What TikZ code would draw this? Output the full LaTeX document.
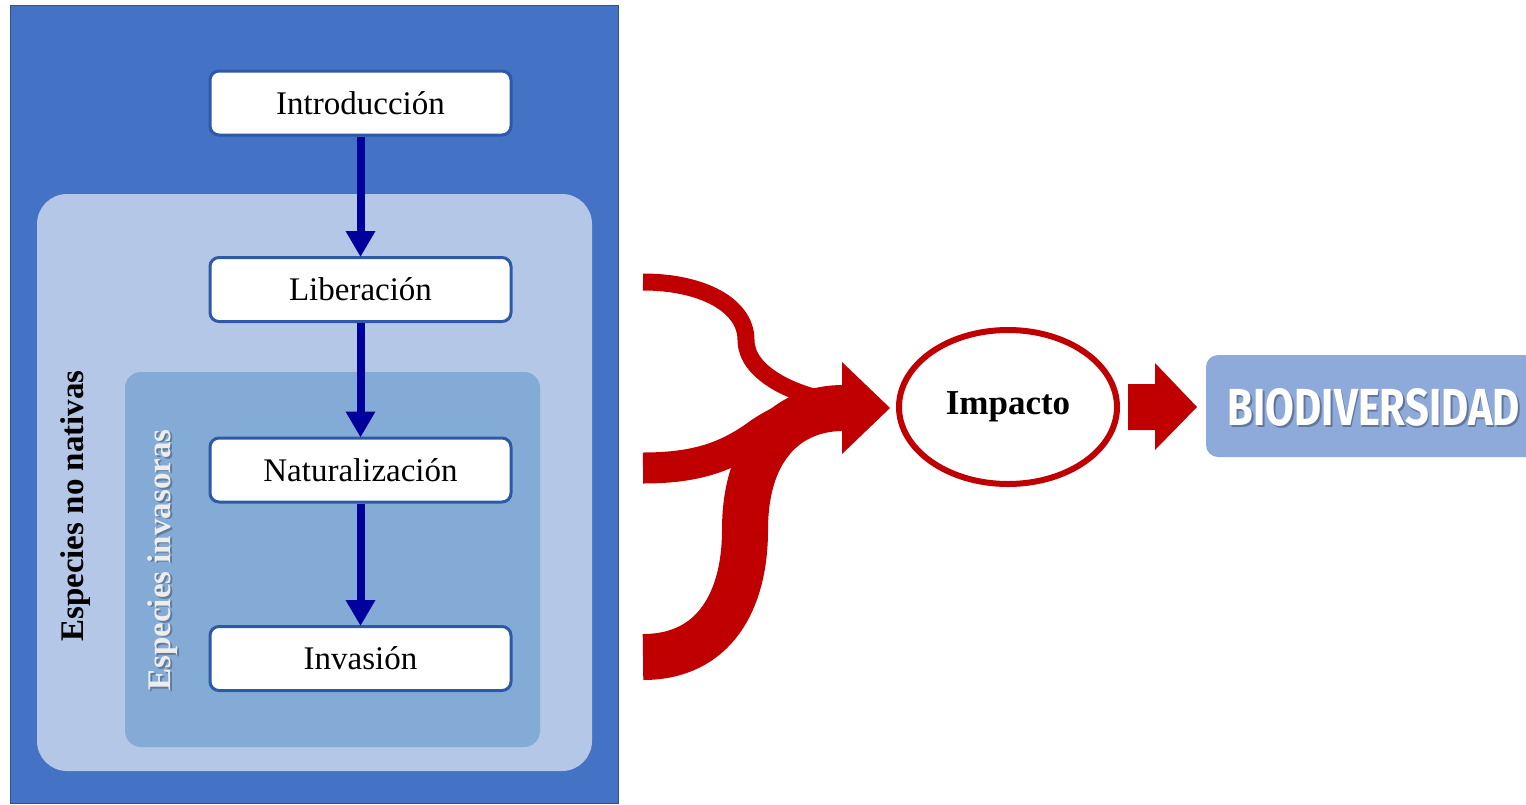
\documentclass[tikz,border=0pt]{standalone}
\usepackage{fontspec}
\setmainfont{Liberation Serif}
\newfontfamily\biofont{Fira Sans}
\usetikzlibrary{arrows.meta,shapes.geometric}
\definecolor{bgblue}{HTML}{4472C4}
\definecolor{bgedge}{HTML}{2F528F}
\definecolor{lightpanel}{HTML}{B4C7E7}
\definecolor{midpanel}{HTML}{84ABD6}
\definecolor{boxedge}{HTML}{2E59A8}
\definecolor{flowblue}{HTML}{00009C}
\definecolor{impred}{HTML}{C00000}
\definecolor{biobox}{HTML}{8EAADB}
\tikzset{
  stepbox/.style={draw=boxedge, fill=white, line width=3pt, rounded corners=9pt,
    minimum width=301pt, minimum height=64pt, inner sep=0pt,
    font=\fontsize{33}{38}\selectfont},
  flow/.style={draw=flowblue, line width=8pt,
    -{Triangle[width=28pt,length=26pt]}, shorten >=-1pt},
  redband/.style={draw=impred, line cap=butt},
  sidelabel/.style={rotate=90, font=\fontsize{33}{38}\selectfont\bfseries, inner sep=0pt},
}
\begin{document}
\begin{tikzpicture}[x=1pt,y=-1pt]
\useasboundingbox (0,0) rectangle (1526,804);
\clip (0,0) rectangle (1526,804);
\fill[white] (0,0) rectangle (1526,804);
% panels
\draw[fill=bgblue, draw=bgedge, line width=1pt] (10,5) rectangle (618,803);
\fill[lightpanel, rounded corners=30pt] (37,194) rectangle (592,771);
\fill[midpanel, rounded corners=16pt] (125,372) rectangle (540,747);
% side labels
\node[sidelabel, text=black] (nativas) at (76,506) {Especies no nativas};
\node[sidelabel, text=midpanel!55!black, opacity=0.6] at (164.5,561.5) {Especies invasoras};
\node[sidelabel, text=white!93!black] (invasoras) at (163,560) {Especies invasoras};
% steps
\node[stepbox] (intro) at (360.5,103) {Introducción};
\node[stepbox] (lib) at (360.5,289.5) {Liberación};
\node[stepbox] (nat) at (360.5,470) {Naturalización};
\node[stepbox] (inv) at (360.5,658.5) {Invasión};
\draw[flow] (intro.south) -- (lib.north);
\draw[flow] (lib.south) -- (nat.north);
\draw[flow] (nat.south) -- (inv.north);
% red converging arrows
\coordinate (merge) at (843,408);
\draw[redband, line width=17pt] (643,282) .. controls (702,282) and (746,305) .. (746,340)
  .. controls (746,372) and (790,394) .. (835,402);
\draw[redband, line width=31pt] (643,468) .. controls (700,468) and (730,455) .. (760,433)
  .. controls (790,413) and (815,408) .. (merge);
\draw[redband, line width=46pt] (643,657) .. controls (715,657) and (745,600) .. (745,530)
  .. controls (745,445) and (790,408) .. (merge);
\fill[impred] (842,362) -- (890,408) -- (842,454) -- cycle;
% impacto
\node[ellipse, draw=impred, line width=6pt, minimum width=218pt, minimum height=154pt,
  font=\fontsize{35}{40}\selectfont\bfseries] (imp) at (1008,407) {Impacto};
% block arrow
\fill[impred] (1128,384) -- (1155,384) -- (1155,363) -- (1197,407) -- (1155,450)
  -- (1155,430) -- (1128,430) -- cycle;
% biodiversidad
\fill[biobox, rounded corners=12pt] (1206,355) rectangle (1560,457);
\node[text=biobox!45!black, opacity=0.55, inner sep=0pt] at (1375.5,409)
  {\resizebox{292pt}{37pt}{\biofont\bfseries BIODIVERSIDAD}};
\node[text=white, inner sep=0pt] (bio) at (1374,407)
  {\resizebox{292pt}{37pt}{\biofont\bfseries BIODIVERSIDAD}};
\end{tikzpicture}
\end{document}
